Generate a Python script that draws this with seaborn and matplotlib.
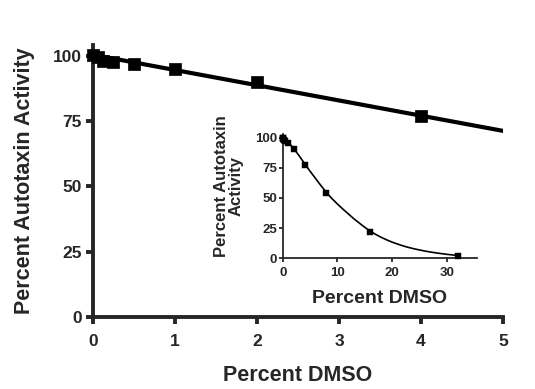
import numpy as np
import pandas as pd
import matplotlib
matplotlib.use("Agg")
import matplotlib.pyplot as plt
import seaborn as sns

# main panel: low DMSO range
dmso_low = [0, 0.0625, 0.125, 0.25, 0.5, 1, 2, 4]
activity_low = [100.3, 99.5, 98.0, 97.5, 96.8, 95.0, 90.0, 76.8]
fit_low_x = [0, 5]
fit_low_y = [100.3, 71.2]

# inset: full DMSO range
dmso_full = [0, 0.0625, 0.125, 0.25, 0.5, 1, 2, 4, 8, 16, 32]
activity_full = [100, 99.5, 99, 98, 97, 95.5, 90.4, 77.4, 54.4, 22.0, 2.2]
curve_x = [0, 1, 2, 3, 4, 5, 6, 7, 8, 9, 10, 11, 12, 13, 14, 15, 16, 17, 18,
           19, 20, 21, 22, 23, 24, 25, 26, 27, 28, 29, 30, 31, 32]
curve_y = [100, 96.2, 91, 85, 78.5, 72.2, 66.2, 60.2, 54.5, 49.5, 45, 40.8, 36.8,
           32.8, 29.2, 25.7, 22.5, 19.8, 17.4, 15.3, 13.4, 11.8, 10.3, 9.0, 7.9,
           6.9, 6.0, 5.2, 4.5, 3.9, 3.3, 2.8, 2.4]

sns.set_theme(style="ticks")
plt.rcParams["font.family"] = ["Liberation Sans", "DejaVu Sans"]
plt.rcParams["font.weight"] = "bold"
plt.rcParams["axes.labelweight"] = "bold"

fig = plt.figure(figsize=(5.35, 3.89), dpi=100)
ax = fig.add_axes([0.1738, 0.185, 0.7664, 0.699])

df_low = pd.DataFrame({"dmso": dmso_low, "act": activity_low})
df_fit = pd.DataFrame({"dmso": fit_low_x, "act": fit_low_y})
sns.lineplot(data=df_fit, x="dmso", y="act", color="black", linewidth=3.0, ax=ax)
sns.scatterplot(data=df_low, x="dmso", y="act", marker="s", s=70, color="black",
                edgecolor="black", linewidth=0.5, ax=ax, clip_on=False, zorder=3)

ax.set_xlim(0, 5)
ax.set_ylim(0, 104)
ax.set_xticks([0, 1, 2, 3, 4, 5])
ax.set_yticks([0, 25, 50, 75, 100])
ax.set_xlabel("Percent DMSO", fontsize=15.5, fontweight="bold", labelpad=12)
ax.set_ylabel("Percent Autotaxin Activity", fontsize=15.5, fontweight="bold", labelpad=13)
ax.tick_params(axis="both", labelsize=12.5, width=2.8, length=5, direction="out", pad=3)
ax.tick_params(axis="x", pad=7)
for lab in ax.get_xticklabels() + ax.get_yticklabels():
    lab.set_fontweight("bold")
sns.despine(ax=ax)
for s in ["left", "bottom"]:
    ax.spines[s].set_linewidth(2.8)

# inset
axi = fig.add_axes([0.5284, 0.336, 0.363, 0.3195])
df_full = pd.DataFrame({"dmso": dmso_full, "act": activity_full})
df_curve = pd.DataFrame({"dmso": curve_x, "act": curve_y})
sns.lineplot(data=df_curve, x="dmso", y="act", color="black", linewidth=1.2, ax=axi)
sns.scatterplot(data=df_full, x="dmso", y="act", marker="s", s=18, color="black",
                edgecolor="black", linewidth=0.3, ax=axi, clip_on=False, zorder=3)
axi.set_xlim(0, 35.5)
axi.set_ylim(0, 103)
axi.set_xticks([0, 10, 20, 30])
axi.set_yticks([0, 25, 50, 75, 100])
axi.set_xlabel("Percent DMSO", fontsize=14, fontweight="bold", labelpad=8)
axi.set_ylabel("Percent Autotaxin\nActivity", fontsize=12, fontweight="bold",
               labelpad=7, linespacing=1.0)
axi.yaxis.set_label_coords(-0.2, 0.58)
axi.tick_params(axis="both", labelsize=9.5, width=1.3, length=3, direction="out", pad=1)
axi.tick_params(axis="x", pad=3)
for lab in axi.get_xticklabels() + axi.get_yticklabels():
    lab.set_fontweight("bold")
sns.despine(ax=axi)
for s in ["left", "bottom"]:
    axi.spines[s].set_linewidth(1.3)
axi.patch.set_alpha(0)

fig.savefig("out.png", dpi=100)
